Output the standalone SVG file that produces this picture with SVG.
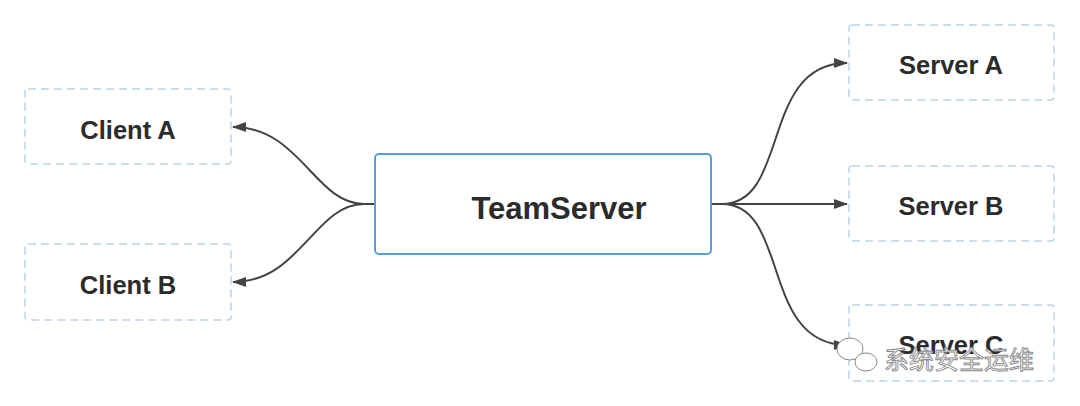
<svg xmlns="http://www.w3.org/2000/svg" width="1080" height="406" viewBox="0 0 1080 406">
<style>
.dash{fill:#fff;stroke:#b9d3ec;stroke-width:1.5;stroke-dasharray:8 5}
.main{fill:#fff;stroke:#5b9bd8;stroke-width:2}
.lbl{font-family:"Liberation Sans",Arial,sans-serif;font-weight:bold;fill:#2b2b2b;text-anchor:middle}
.edge{fill:none;stroke:#444;stroke-width:2}
.wm{font-family:"Noto Sans CJK SC",sans-serif;font-size:25px;fill:#fff;stroke:#8a8a8a;stroke-width:0.9}
</style>
<defs>
<marker id="arr" viewBox="0 0 14 10" refX="13" refY="5" markerWidth="14" markerHeight="10" markerUnits="userSpaceOnUse" orient="auto">
<path d="M0,0 L14,5 L0,10 Z" fill="#444"/>
</marker>
</defs>
<rect width="1080" height="406" fill="#fff"/>
<g id="connectors">
<path class="edge" marker-end="url(#arr)" d="M374,204 L364,204 C315,204 300,127 233,127"/>
<path class="edge" marker-end="url(#arr)" d="M374,204 L364,204 C315,204 300,282 233,282"/>
<path class="edge" marker-end="url(#arr)" d="M711,204 L722,204 C790,204 760,63 847,63"/>
<path class="edge" marker-end="url(#arr)" d="M711,204 L847,204"/>
<path class="edge" marker-end="url(#arr)" d="M711,204 L722,204 C790,204 760,345 847,345"/>
</g>
<g id="clientA"><rect class="dash" x="25" y="89" width="206" height="75" rx="3"/><text class="lbl" x="128" y="139" font-size="25.5">Client A</text></g>
<g id="clientB"><rect class="dash" x="25" y="244" width="206" height="76" rx="3"/><text class="lbl" x="128" y="294" font-size="25.5">Client B</text></g>
<g id="teamserver"><rect class="main" x="375" y="154" width="336" height="100" rx="4"/><text class="lbl" x="559" y="219" font-size="31">TeamServer</text></g>
<g id="serverA"><rect class="dash" x="849" y="25" width="205" height="75" rx="3"/><text class="lbl" x="951" y="74" font-size="25.5">Server A</text></g>
<g id="serverB"><rect class="dash" x="849" y="166" width="205" height="75" rx="3"/><text class="lbl" x="951" y="215" font-size="25.5">Server B</text></g>
<g id="serverC"><rect class="dash" x="849" y="305" width="205" height="76" rx="3"/><text class="lbl" x="951" y="354" font-size="25.5">Server C</text></g>
<g id="watermark">
<ellipse cx="850" cy="349" rx="13" ry="11" fill="#fff" stroke="#8a8a8a" stroke-width="1"/>
<ellipse cx="866" cy="362" rx="11" ry="9" fill="#fff" stroke="#8a8a8a" stroke-width="1"/>
<text class="wm" x="884" y="369">系统安全运维</text>
</g>
</svg>
